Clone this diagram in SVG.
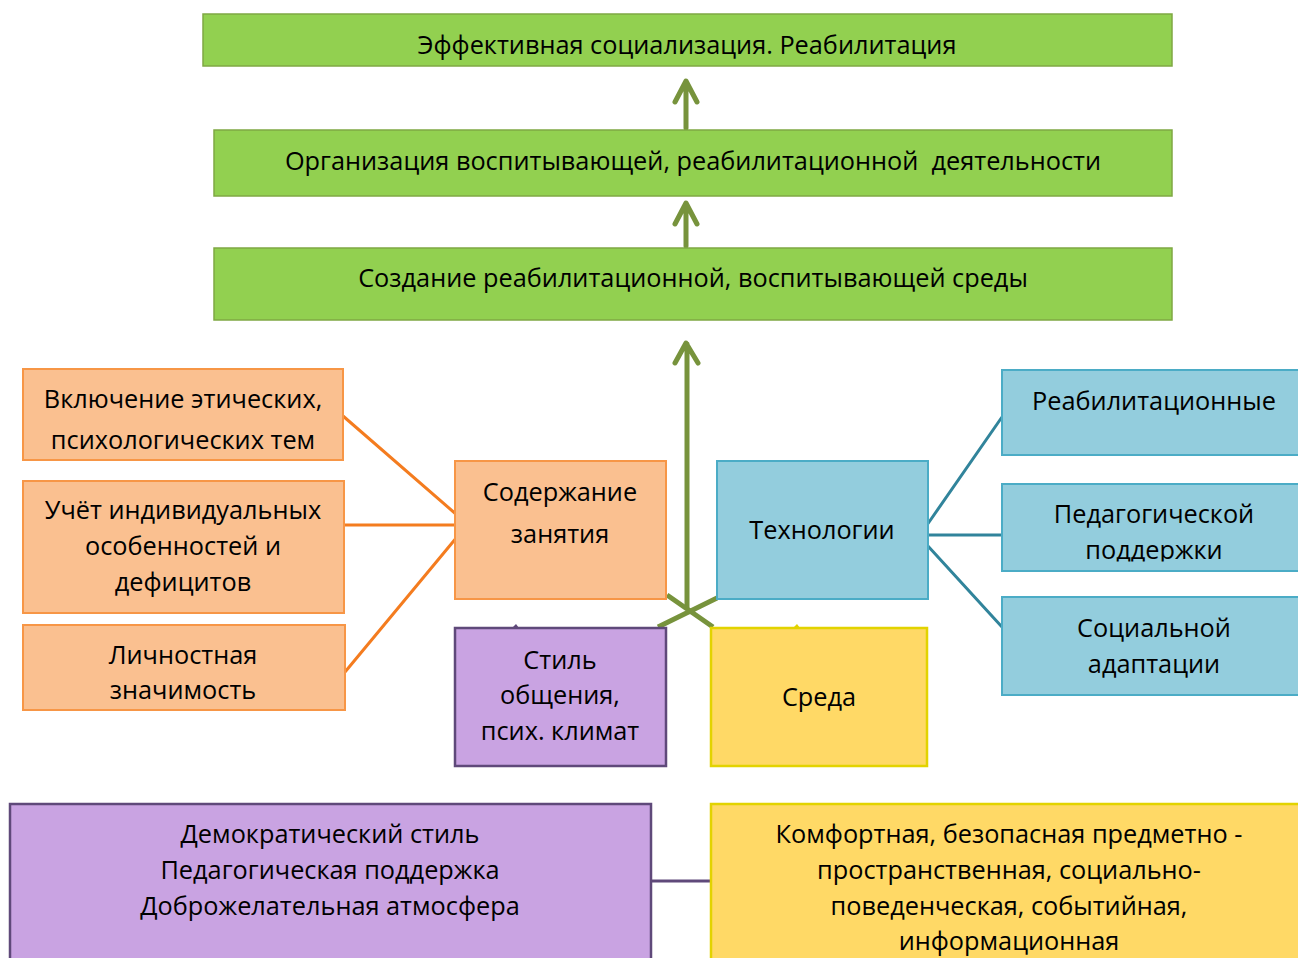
<svg xmlns="http://www.w3.org/2000/svg" width="1298" height="958" viewBox="0 0 1298 958">
<defs>
<style>
text{font-family:"Open Sans","Noto Sans","DejaVu Sans",sans-serif;font-size:25.3px;fill:#000;text-anchor:middle}
.g{fill:#92d050;stroke:#7fa843;stroke-width:1.5}
.o{fill:#fac090;stroke:#f79646;stroke-width:2}
.b{fill:#93cddd;stroke:#4bacc6;stroke-width:2}
.p{fill:#c9a3e2;stroke:#5f497a;stroke-width:2.5}
.y{fill:#ffd966;stroke:#e2d300;stroke-width:2.5}
.arr{stroke:#77933c;stroke-width:5;fill:none;stroke-linecap:round;stroke-linejoin:round}
.ol{stroke:#f47c1f;stroke-width:3;fill:none}
.bl{stroke:#31849b;stroke-width:3;fill:none}
.pl{stroke:#5f497a;stroke-width:3;fill:none}
</style>
<clipPath id="cPed"><rect x="1002" y="484" width="296" height="77.5"/></clipPath>
</defs>
<g id="connectors">
<path class="arr" d="M686 128V82M675 102L686 81L697 102"/>
<path class="arr" d="M686 246V204M675 224L686 203L697 224"/>
<path class="arr" d="M687 608V344M675 363L686 343L698 363"/>
<path d="M667 595L713 627M717 598L658 627" stroke="#77933c" stroke-width="5" fill="none"/>
<path class="ol" d="M343 416L457 515M344 525H457M345 672L457 537"/>
<path class="bl" d="M927 525L1002 417M927 535H1002M927 545L1002 627"/>
<path class="pl" d="M651 881H711"/>
<path d="M512 628L516 624L519 628Z" fill="#5f497a"/>
<path d="M793 628L797 624L800 628Z" fill="#e2d300"/>
</g>
<g id="n1"><rect class="g" x="203" y="14" width="969" height="52"/><text x="687" y="54">Эффективная социализация. Реабилитация</text></g>
<g id="n2"><rect class="g" x="214" y="130" width="958" height="66"/><text x="693" y="170" xml:space="preserve">Организация воспитывающей, реабилитационной  деятельности</text></g>
<g id="n3"><rect class="g" x="214" y="248" width="958" height="72"/><text x="693" y="287">Создание реабилитационной, воспитывающей среды</text></g>
<g id="o1"><rect class="o" x="23" y="369" width="320" height="91"/><text x="183" y="408">Включение этических,</text><text x="183" y="449">психологических тем</text></g>
<g id="o2"><rect class="o" x="23" y="481" width="321" height="132"/><text x="183" y="519">Учёт индивидуальных</text><text x="183" y="555">особенностей и</text><text x="183" y="591">дефицитов</text></g>
<g id="o3"><rect class="o" x="23" y="625" width="322" height="85"/><text x="183" y="664">Личностная</text><text x="183" y="699">значимость</text></g>
<g id="content"><rect class="o" x="455" y="461" width="211" height="138"/><text x="560" y="501">Содержание</text><text x="560" y="543">занятия</text></g>
<g id="tech"><rect class="b" x="717" y="461" width="211" height="138"/><text x="822" y="539">Технологии</text></g>
<g id="b1"><rect class="b" x="1002" y="370" width="306" height="85"/><text x="1154" y="410">Реабилитационные</text></g>
<g id="b2"><rect class="b" x="1002" y="484" width="306" height="87"/><g clip-path="url(#cPed)"><text x="1154" y="523">Педагогической</text><text x="1154" y="559">поддержки</text></g></g>
<g id="b3"><rect class="b" x="1002" y="597" width="306" height="98"/><text x="1154" y="637">Социальной</text><text x="1154" y="673">адаптации</text></g>
<g id="style"><rect class="p" x="455" y="628" width="211" height="138"/><text x="560" y="669">Стиль</text><text x="560" y="704">общения,</text><text x="560" y="740">псих. климат</text></g>
<g id="env"><rect class="y" x="711" y="628" width="216" height="138"/><text x="819" y="706">Среда</text></g>
<g id="pbottom"><rect class="p" x="10" y="804" width="641" height="170"/><text x="330" y="843">Демократический стиль</text><text x="330" y="879">Педагогическая поддержка</text><text x="330" y="915">Доброжелательная атмосфера</text></g>
<g id="ybottom"><rect class="y" x="711" y="804" width="600" height="170"/><text x="1009" y="843">Комфортная, безопасная предметно -</text><text x="1009" y="879">пространственная, социально-</text><text x="1009" y="915">поведенческая, событийная,</text><text x="1009" y="950">информационная</text></g>
</svg>
